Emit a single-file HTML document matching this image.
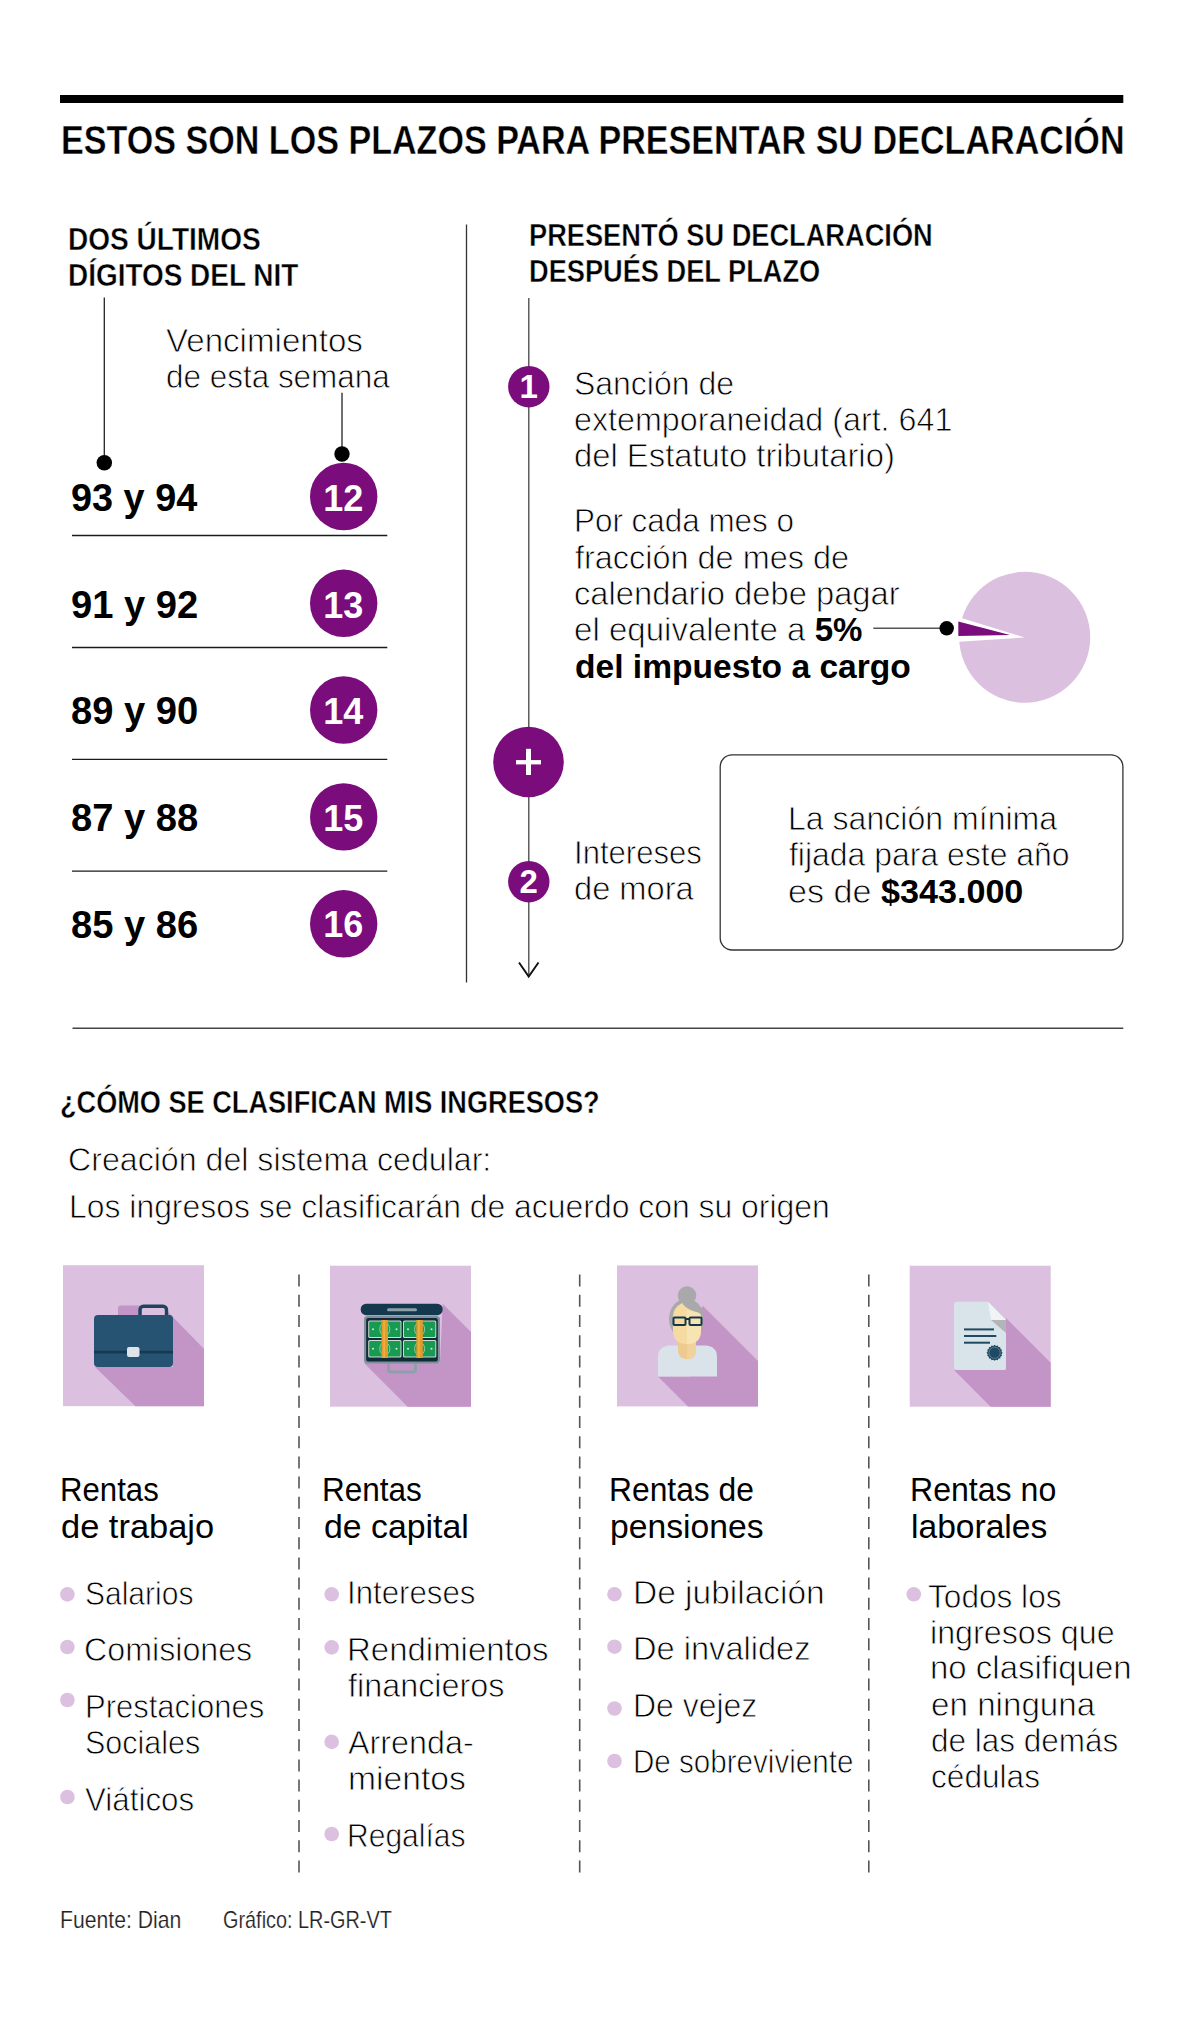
<!DOCTYPE html>
<html><head><meta charset="utf-8"><title>Plazos declaración</title>
<style>
html,body{margin:0;padding:0;background:#fff;}
body{width:1200px;height:2028px;position:relative;overflow:hidden;font-family:"Liberation Sans",sans-serif;}
.t{position:absolute;white-space:pre;transform-origin:0 0;}
.t b{font-weight:700;-webkit-text-stroke:0;}
.lt{-webkit-text-stroke:0.8px #fff;}
.ft{-webkit-text-stroke:0.2px #fff;}
.bt{-webkit-text-stroke:0.4px #fff;}
.bt b{-webkit-text-stroke:0.4px #fff;}
.cn{color:#fff;text-align:center;transform-origin:50% 0;transform:scaleX(1.0)}
svg.g{position:absolute;left:0;top:0;}
</style></head><body>
<svg class="g" width="1200" height="2028" viewBox="0 0 1200 2028">
<rect x="60" y="95" width="1063.3" height="8" fill="#000"/>
<line x1="466.5" y1="224.5" x2="466.5" y2="982.5" stroke="#333" stroke-width="1.3"/>
<line x1="104.3" y1="297.5" x2="104.3" y2="462" stroke="#222" stroke-width="1.3"/>
<circle cx="104.3" cy="462.75" r="7.75" fill="#000"/>
<line x1="342" y1="392.8" x2="342" y2="454" stroke="#222" stroke-width="1.3"/>
<circle cx="342" cy="454" r="7.7" fill="#000"/>
<circle cx="343.7" cy="496.5" r="33.7" fill="#7a0c7b"/>
<circle cx="343.7" cy="603.3" r="33.7" fill="#7a0c7b"/>
<circle cx="343.7" cy="710" r="33.7" fill="#7a0c7b"/>
<circle cx="343.7" cy="816.9" r="33.7" fill="#7a0c7b"/>
<circle cx="343.7" cy="923.8" r="33.7" fill="#7a0c7b"/>
<line x1="72" y1="535.45" x2="387.3" y2="535.45" stroke="#1a1a1a" stroke-width="1.4"/>
<line x1="72" y1="647.5" x2="387.3" y2="647.5" stroke="#1a1a1a" stroke-width="1.4"/>
<line x1="72" y1="759.4" x2="387.3" y2="759.4" stroke="#1a1a1a" stroke-width="1.4"/>
<line x1="72" y1="871.1" x2="387.3" y2="871.1" stroke="#1a1a1a" stroke-width="1.4"/>
<line x1="528.8" y1="298" x2="528.8" y2="976" stroke="#444" stroke-width="1.3"/>
<polyline points="519,962.5 528.7,976.5 538.5,962.5" fill="none" stroke="#111" stroke-width="1.9"/>
<circle cx="528.8" cy="386.7" r="20.7" fill="#7a0c7b"/>
<circle cx="528.5" cy="762" r="35.3" fill="#7a0c7b"/>
<rect x="516" y="760.1" width="25" height="4.3" fill="#fff"/>
<rect x="526" y="748.8" width="5" height="26.2" fill="#fff"/>
<circle cx="528.8" cy="881.7" r="20.7" fill="#7a0c7b"/>
<line x1="873.3" y1="628.3" x2="946" y2="628.3" stroke="#555" stroke-width="1.5"/>
<circle cx="946.7" cy="628.3" r="7.2" fill="#000"/>
<circle cx="1024.7" cy="637.3" r="65.5" fill="#dcc0df"/>
<polygon points="1024.8,637.5 955,616 955,642" fill="#fff"/>
<polygon points="1010,635 958.3,621.5 958.3,636" fill="#7a0c7b"/>
<rect x="720.2" y="754.8" width="402.7" height="195.2" rx="12" ry="12" fill="none" stroke="#333" stroke-width="1.3"/>
<line x1="72.5" y1="1028.3" x2="1123.3" y2="1028.3" stroke="#444" stroke-width="1.5"/>
<line x1="299" y1="1274.6" x2="299" y2="1873" stroke="#555" stroke-width="1.6" stroke-dasharray="12 8.2"/>
<line x1="579.7" y1="1274.6" x2="579.7" y2="1873" stroke="#555" stroke-width="1.6" stroke-dasharray="12 8.2"/>
<line x1="868.8" y1="1274.6" x2="868.8" y2="1873" stroke="#555" stroke-width="1.6" stroke-dasharray="12 8.2"/>
<circle cx="67.4" cy="1594.4" r="7.3" fill="#dcc0df"/>
<circle cx="67.4" cy="1647" r="7.3" fill="#dcc0df"/>
<circle cx="67.4" cy="1700" r="7.3" fill="#dcc0df"/>
<circle cx="67.4" cy="1797" r="7.3" fill="#dcc0df"/>
<circle cx="331.7" cy="1594.3" r="7.3" fill="#dcc0df"/>
<circle cx="331.7" cy="1647.4" r="7.3" fill="#dcc0df"/>
<circle cx="331.7" cy="1741.9" r="7.3" fill="#dcc0df"/>
<circle cx="331.7" cy="1834" r="7.3" fill="#dcc0df"/>
<circle cx="614.5" cy="1594.2" r="7.3" fill="#dcc0df"/>
<circle cx="614.5" cy="1646.7" r="7.3" fill="#dcc0df"/>
<circle cx="614.5" cy="1708.5" r="7.3" fill="#dcc0df"/>
<circle cx="614.5" cy="1761" r="7.3" fill="#dcc0df"/>
<circle cx="913.8" cy="1594.3" r="7.3" fill="#dcc0df"/>

<!-- icon 1 briefcase -->
<rect x="63" y="1265.2" width="141" height="141" fill="#dcc0df"/>
<polygon points="168,1312 204,1349 204,1406.2 135.5,1406.2 95,1367 173,1367" fill="#c394c6"/>
<rect x="118" y="1305.5" width="24" height="14" rx="3" fill="#c394c6"/>
<rect x="140" y="1306.3" width="26.5" height="12" rx="3.5" fill="none" stroke="#1d4561" stroke-width="3.4"/>
<rect x="94" y="1315" width="79" height="52" rx="4" fill="#265371"/>
<rect x="94" y="1350.8" width="79" height="2.6" fill="#17384f"/>
<rect x="127" y="1347" width="12.5" height="10" rx="2" fill="#dde5ea"/>

<!-- icon 2 money case -->
<rect x="330" y="1265.7" width="141" height="141" fill="#dcc0df"/>
<polygon points="442.7,1303.7 471,1332 471,1406.7 407.7,1406.7 364,1363 440,1363" fill="#c394c6"/>
<rect x="388.5" y="1361.5" width="27" height="10.5" rx="2.5" fill="none" stroke="#8ea1ab" stroke-width="3"/>
<rect x="364" y="1316" width="76" height="47.5" rx="3.5" fill="#7d8f99"/>
<rect x="366.2" y="1318" width="71.6" height="43.5" rx="2" fill="#12293a"/>
<rect x="360.7" y="1303.7" width="82" height="11.5" rx="5.5" fill="#14394f"/>
<rect x="387" y="1308.3" width="30" height="3" rx="1.5" fill="#8ea1ab"/>
<g>
<rect x="368.2" y="1320.5" width="33.3" height="17.5" rx="1.5" fill="#c9dccd"/>
<rect x="369.2" y="1321.5" width="31.3" height="15.5" rx="1" fill="#199a52"/>
<rect x="403" y="1320.5" width="33.3" height="17.5" rx="1.5" fill="#c9dccd"/>
<rect x="404" y="1321.5" width="31.3" height="15.5" rx="1" fill="#199a52"/>
<rect x="368.2" y="1340" width="33.3" height="17.5" rx="1.5" fill="#c9dccd"/>
<rect x="369.2" y="1341" width="31.3" height="15.5" rx="1" fill="#199a52"/>
<rect x="403" y="1340" width="33.3" height="17.5" rx="1.5" fill="#c9dccd"/>
<rect x="404" y="1341" width="31.3" height="15.5" rx="1" fill="#199a52"/>
<g fill="none" stroke="#a8d8b4" stroke-width="0.8">
<ellipse cx="384.8" cy="1329.2" rx="5" ry="6.5"/><ellipse cx="419.6" cy="1329.2" rx="5" ry="6.5"/>
<ellipse cx="384.8" cy="1348.7" rx="5" ry="6.5"/><ellipse cx="419.6" cy="1348.7" rx="5" ry="6.5"/>
</g>
<g fill="#cfe9d5">
<circle cx="373" cy="1329.2" r="1"/><circle cx="396.5" cy="1329.2" r="1"/><circle cx="408" cy="1329.2" r="1"/><circle cx="431.5" cy="1329.2" r="1"/>
<circle cx="373" cy="1348.7" r="1"/><circle cx="396.5" cy="1348.7" r="1"/><circle cx="408" cy="1348.7" r="1"/><circle cx="431.5" cy="1348.7" r="1"/>
</g>
<rect x="381.5" y="1320" width="6.5" height="38" fill="#e29a2c"/>
<rect x="383.6" y="1320" width="1" height="38" fill="#f2c04a"/>
<rect x="416.3" y="1320" width="6.5" height="38" fill="#e29a2c"/>
<rect x="418.4" y="1320" width="1" height="38" fill="#f2c04a"/>
</g>

<!-- icon 3 woman -->
<rect x="617" y="1265.4" width="141" height="141" fill="#dcc0df"/>
<polygon points="703,1306 758,1361 758,1406.4 688,1406.4 658,1376.4 690,1376.4 690,1320" fill="#c394c6"/>
<path d="M658,1376.4 V1357 q0,-11 12,-11.5 H705 q12,0.5 12,11.5 V1376.4 Z" fill="#d9e3e9"/>
<path d="M678,1336 H696 V1350 q0,9 -9,9 q-9,0 -9,-9 Z" fill="#edcb8e"/>
<path d="M687,1336 H696 V1350 q0,9 -9,9 Z" fill="#f0d29a"/>
<circle cx="687" cy="1295.5" r="9.3" fill="#a9a9ab"/>
<ellipse cx="686.5" cy="1319" rx="17.5" ry="20.5" fill="#a9a9ab"/>
<path d="M673,1316 q0,-8 9,-13 q4,6 14,9 q5,1 5,4 V1330 q0,14 -14,14 q-14,0 -14,-14 Z" fill="#f5dba2"/>
<path d="M687,1310 q4,2 9,2 q5,1 5,4 V1330 q0,14 -14,14 Z" fill="#f8e3b2"/>
<g fill="none" stroke="#15364b" stroke-width="2">
<rect x="673.5" y="1317.5" width="12" height="7.5" rx="1"/>
<rect x="689.5" y="1317.5" width="12" height="7.5" rx="1"/>
<line x1="685.5" y1="1319" x2="689.5" y2="1319"/>
</g>

<!-- icon 4 document -->
<rect x="909.7" y="1265.7" width="141" height="141" fill="#dcc0df"/>
<polygon points="1006,1318 1050.7,1362.7 1050.7,1406.7 990.7,1406.7 954,1370 1006,1370" fill="#c394c6"/>
<path d="M954,1305 q0,-3.3 3.3,-3.3 H988 L1006,1320 V1366.7 q0,3.3 -3.3,3.3 H957.3 q-3.3,0 -3.3,-3.3 Z" fill="#d9e3ea"/>
<polygon points="988,1301.7 1006,1320 991,1320" fill="#f1f4f6"/>
<polygon points="991,1320 1006,1320 1006,1333" fill="#b3b5b8"/>
<g stroke="#1f4a63" stroke-width="2">
<line x1="964" y1="1329.4" x2="994" y2="1329.4"/>
<line x1="964" y1="1336" x2="996.3" y2="1336"/>
<line x1="964" y1="1342.7" x2="990" y2="1342.7"/>
</g>
<polygon points="1002.60,1352.80 1001.47,1354.17 1001.99,1355.86 1000.42,1356.69 1000.26,1358.46 998.49,1358.62 997.66,1360.19 995.97,1359.67 994.60,1360.80 993.23,1359.67 991.54,1360.19 990.71,1358.62 988.94,1358.46 988.78,1356.69 987.21,1355.86 987.73,1354.17 986.60,1352.80 987.73,1351.43 987.21,1349.74 988.78,1348.91 988.94,1347.14 990.71,1346.98 991.54,1345.41 993.23,1345.93 994.60,1344.80 995.97,1345.93 997.66,1345.41 998.49,1346.98 1000.26,1347.14 1000.42,1348.91 1001.99,1349.74 1001.47,1351.43" fill="#1f4a63"/>
<circle cx="994.6" cy="1352.8" r="5.6" fill="none" stroke="#6f8fa3" stroke-width="0.7"/>

</svg>
<div class="t bt" style="left:60.64px;top:119.93px;font-size:40px;line-height:40px;color:#000;transform:scaleX(0.8525)"><b>ESTOS SON LOS PLAZOS PARA PRESENTAR SU DECLARACIÓN</b></div>
<div class="t bt" style="left:68.19px;top:224.25px;font-size:31px;line-height:31px;color:#000;transform:scaleX(0.9048)"><b>DOS ÚLTIMOS</b></div>
<div class="t bt" style="left:68.20px;top:260.25px;font-size:31px;line-height:31px;color:#000;transform:scaleX(0.9012)"><b>DÍGITOS DEL NIT</b></div>
<div class="t bt" style="left:529.24px;top:219.75px;font-size:31px;line-height:31px;color:#000;transform:scaleX(0.8779)"><b>PRESENTÓ SU DECLARACIÓN</b></div>
<div class="t bt" style="left:529.24px;top:255.55px;font-size:31px;line-height:31px;color:#000;transform:scaleX(0.8775)"><b>DESPUÉS DEL PLAZO</b></div>
<div class="t lt" style="left:166.30px;top:322.91px;font-size:34px;line-height:34px;color:#000;transform:scaleX(0.9736)">Vencimientos</div>
<div class="t lt" style="left:166.18px;top:358.71px;font-size:34px;line-height:34px;color:#000;transform:scaleX(0.9249)">de esta semana</div>
<div class="t" style="left:70.90px;top:479.33px;font-size:38px;line-height:38px;color:#000;transform:scaleX(0.9960)"><b>93 y 94</b></div>
<div class="t" style="left:70.90px;top:586.43px;font-size:38px;line-height:38px;color:#000;transform:scaleX(1.0040)"><b>91 y 92</b></div>
<div class="t" style="left:70.90px;top:692.43px;font-size:38px;line-height:38px;color:#000;transform:scaleX(1.0040)"><b>89 y 90</b></div>
<div class="t" style="left:70.90px;top:799.23px;font-size:38px;line-height:38px;color:#000;transform:scaleX(1.0040)"><b>87 y 88</b></div>
<div class="t" style="left:70.90px;top:905.53px;font-size:38px;line-height:38px;color:#000;transform:scaleX(1.0040)"><b>85 y 86</b></div>
<div class="t lt" style="left:573.82px;top:365.91px;font-size:34px;line-height:34px;color:#000;transform:scaleX(0.9401)">Sanción de</div>
<div class="t lt" style="left:574.05px;top:402.21px;font-size:34px;line-height:34px;color:#000;transform:scaleX(0.9487)">extemporaneidad (art. 641</div>
<div class="t lt" style="left:574.04px;top:438.21px;font-size:34px;line-height:34px;color:#000;transform:scaleX(0.9645)">del Estatuto tributario)</div>
<div class="t lt" style="left:573.73px;top:503.01px;font-size:34px;line-height:34px;color:#000;transform:scaleX(0.9239)">Por cada mes o</div>
<div class="t lt" style="left:574.50px;top:539.81px;font-size:34px;line-height:34px;color:#000;transform:scaleX(0.9538)">fracción de mes de</div>
<div class="t lt" style="left:574.04px;top:576.01px;font-size:34px;line-height:34px;color:#000;transform:scaleX(0.9623)">calendario debe pagar</div>
<div class="t lt" style="left:574.03px;top:611.71px;font-size:34px;line-height:34px;color:#000;transform:scaleX(0.9719)">el equivalente a <b>5%</b></div>
<div class="t lt" style="left:574.51px;top:648.71px;font-size:34px;line-height:34px;color:#000;transform:scaleX(0.9876)"><b>del impuesto a cargo</b></div>
<div class="t lt" style="left:574.06px;top:834.96px;font-size:34px;line-height:34px;color:#000;transform:scaleX(0.9132)">Intereses</div>
<div class="t lt" style="left:574.04px;top:870.81px;font-size:34px;line-height:34px;color:#000;transform:scaleX(0.9597)">de mora</div>
<div class="t lt" style="left:787.97px;top:800.81px;font-size:34px;line-height:34px;color:#000;transform:scaleX(0.9431)">La sanción mínima</div>
<div class="t lt" style="left:788.80px;top:837.01px;font-size:34px;line-height:34px;color:#000;transform:scaleX(0.9394)">fijada para este año</div>
<div class="t lt" style="left:788.30px;top:873.71px;font-size:34px;line-height:34px;color:#000;transform:scaleX(1.0039)">es de <b>$343.000</b></div>
<div class="t bt" style="left:60.25px;top:1087.25px;font-size:31px;line-height:31px;color:#000;transform:scaleX(0.8752)"><b>¿CÓMO SE CLASIFICAN MIS INGRESOS?</b></div>
<div class="t lt" style="left:68.41px;top:1142.01px;font-size:34px;line-height:34px;color:#000;transform:scaleX(0.9451)">Creación del sistema cedular:</div>
<div class="t lt" style="left:68.88px;top:1188.71px;font-size:34px;line-height:34px;color:#000;transform:scaleX(0.9383)">Los ingresos se clasificarán de acuerdo con su origen</div>
<div class="t" style="left:59.95px;top:1472.01px;font-size:34px;line-height:34px;color:#000;transform:scaleX(0.9163)">Rentas</div>
<div class="t" style="left:61.09px;top:1508.71px;font-size:34px;line-height:34px;color:#000;transform:scaleX(1.0128)">de trabajo</div>
<div class="t" style="left:322.42px;top:1472.01px;font-size:34px;line-height:34px;color:#000;transform:scaleX(0.9269)">Rentas</div>
<div class="t" style="left:323.81px;top:1508.71px;font-size:34px;line-height:34px;color:#000;transform:scaleX(0.9944)">de capital</div>
<div class="t" style="left:608.89px;top:1472.01px;font-size:34px;line-height:34px;color:#000;transform:scaleX(0.9351)">Rentas de</div>
<div class="t" style="left:609.72px;top:1508.71px;font-size:34px;line-height:34px;color:#000;transform:scaleX(0.9901)">pensiones</div>
<div class="t" style="left:909.82px;top:1471.91px;font-size:34px;line-height:34px;color:#000;transform:scaleX(0.9434)">Rentas no</div>
<div class="t" style="left:910.67px;top:1508.91px;font-size:34px;line-height:34px;color:#000;transform:scaleX(0.9878)">laborales</div>
<div class="t lt" style="left:84.73px;top:1575.81px;font-size:34px;line-height:34px;color:#000;transform:scaleX(0.8825)">Salarios</div>
<div class="t lt" style="left:84.31px;top:1631.61px;font-size:34px;line-height:34px;color:#000;transform:scaleX(0.9471)">Comisiones</div>
<div class="t lt" style="left:85.16px;top:1689.31px;font-size:34px;line-height:34px;color:#000;transform:scaleX(0.9120)">Prestaciones</div>
<div class="t lt" style="left:85.00px;top:1724.81px;font-size:34px;line-height:34px;color:#000;transform:scaleX(0.8976)">Sociales</div>
<div class="t lt" style="left:85.20px;top:1782.11px;font-size:34px;line-height:34px;color:#000;transform:scaleX(0.9214)">Viáticos</div>
<div class="t lt" style="left:347.04px;top:1574.96px;font-size:34px;line-height:34px;color:#000;transform:scaleX(0.9184)">Intereses</div>
<div class="t lt" style="left:346.59px;top:1632.01px;font-size:34px;line-height:34px;color:#000;transform:scaleX(0.9696)">Rendimientos</div>
<div class="t lt" style="left:347.75px;top:1667.91px;font-size:34px;line-height:34px;color:#000;transform:scaleX(0.9512)">financieros</div>
<div class="t lt" style="left:348.00px;top:1724.91px;font-size:34px;line-height:34px;color:#000;transform:scaleX(0.9504)">Arrenda-</div>
<div class="t lt" style="left:347.52px;top:1760.71px;font-size:34px;line-height:34px;color:#000;transform:scaleX(0.9897)">mientos</div>
<div class="t lt" style="left:346.85px;top:1817.81px;font-size:34px;line-height:34px;color:#000;transform:scaleX(0.8831)">Regalías</div>
<div class="t lt" style="left:632.85px;top:1574.96px;font-size:34px;line-height:34px;color:#000;transform:scaleX(0.9847)">De jubilación</div>
<div class="t lt" style="left:632.92px;top:1630.71px;font-size:34px;line-height:34px;color:#000;transform:scaleX(0.9586)">De invalidez</div>
<div class="t lt" style="left:632.98px;top:1687.91px;font-size:34px;line-height:34px;color:#000;transform:scaleX(0.9398)">De vejez</div>
<div class="t lt" style="left:633.19px;top:1743.91px;font-size:34px;line-height:34px;color:#000;transform:scaleX(0.8703)">De sobreviviente</div>
<div class="t lt" style="left:928.27px;top:1579.01px;font-size:34px;line-height:34px;color:#000;transform:scaleX(0.9296)">Todos los</div>
<div class="t lt" style="left:930.40px;top:1615.11px;font-size:34px;line-height:34px;color:#000;transform:scaleX(0.9482)">ingresos que</div>
<div class="t lt" style="left:930.36px;top:1650.31px;font-size:34px;line-height:34px;color:#000;transform:scaleX(0.9696)">no clasifiquen</div>
<div class="t lt" style="left:930.62px;top:1687.11px;font-size:34px;line-height:34px;color:#000;transform:scaleX(0.9760)">en ninguna</div>
<div class="t lt" style="left:930.67px;top:1722.91px;font-size:34px;line-height:34px;color:#000;transform:scaleX(0.9255)">de las demás</div>
<div class="t lt" style="left:930.87px;top:1758.61px;font-size:34px;line-height:34px;color:#000;transform:scaleX(0.9296)">cédulas</div>
<div class="t ft" style="left:59.64px;top:1907.68px;font-size:24px;line-height:24px;color:#222;transform:scaleX(0.8821)">Fuente: Dian</div>
<div class="t ft" style="left:222.57px;top:1907.68px;font-size:24px;line-height:24px;color:#222;transform:scaleX(0.8276)">Gráfico: LR-GR-VT</div>
<div class="t cn" style="left:283.30px;top:481.02px;width:120px;font-size:36px;line-height:36px"><b>12</b></div>
<div class="t cn" style="left:283.30px;top:588.12px;width:120px;font-size:36px;line-height:36px"><b>13</b></div>
<div class="t cn" style="left:283.30px;top:694.12px;width:120px;font-size:36px;line-height:36px"><b>14</b></div>
<div class="t cn" style="left:283.30px;top:800.92px;width:120px;font-size:36px;line-height:36px"><b>15</b></div>
<div class="t cn" style="left:283.30px;top:907.22px;width:120px;font-size:36px;line-height:36px"><b>16</b></div>
<div class="t cn" style="left:468.80px;top:370.11px;width:120px;font-size:33px;line-height:33px"><b>1</b></div>
<div class="t cn" style="left:468.80px;top:865.11px;width:120px;font-size:33px;line-height:33px"><b>2</b></div>
</body></html>
